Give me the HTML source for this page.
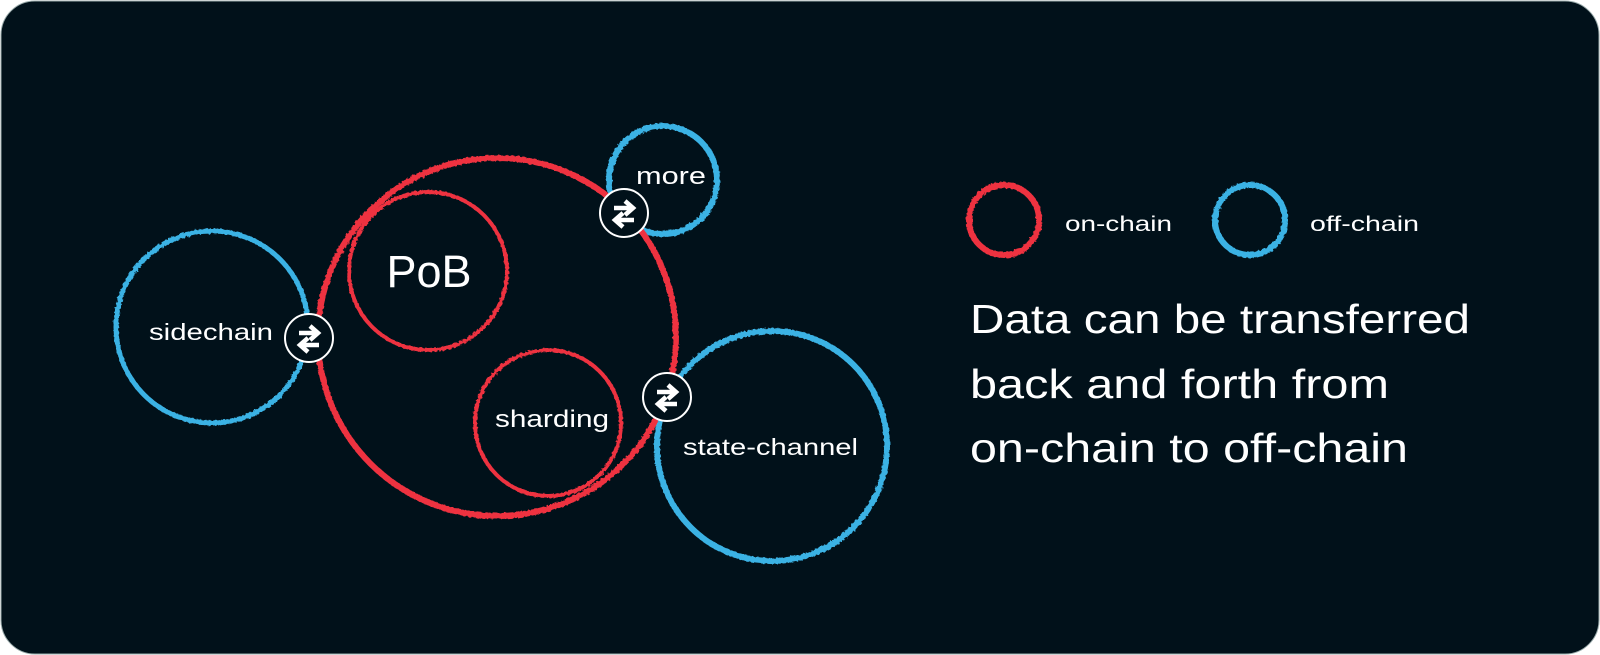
<!DOCTYPE html>
<html><head><meta charset="utf-8"><style>
html,body{margin:0;padding:0;background:#fff;}
body{width:1600px;height:655px;overflow:hidden;}
svg{display:block;}
text{font-family:"Liberation Sans",sans-serif;fill:#fff;}
</style></head><body>
<svg width="1600" height="655" viewBox="0 0 1600 655" xmlns="http://www.w3.org/2000/svg">
<defs>
<filter id="rough" x="-10%" y="-10%" width="120%" height="120%">
<feTurbulence type="fractalNoise" baseFrequency="0.35" numOctaves="2" seed="3"/>
<feDisplacementMap in="SourceGraphic" scale="3"/>
</filter>
<g id="ic">
<circle r="24" fill="#01111a" stroke="#fff" stroke-width="2"/>
<path d="M-10,-5 H6 M1,-12 L9,-5 L1,2" stroke="#fff" stroke-width="4.5" fill="none"/>
<path d="M10,7 H-6 M-1,0 L-9,7 L-1,14" stroke="#fff" stroke-width="4.5" fill="none"/>
</g>
</defs>
<rect x="1" y="1" width="1598" height="653" rx="34" fill="#01111a" stroke="#9aa" stroke-width="1"/>
<g fill="none" filter="url(#rough)">
<circle cx="212" cy="327" r="96" stroke="#3bb2e4" stroke-width="5"/>
<circle cx="663" cy="180" r="54" stroke="#3bb2e4" stroke-width="6"/>
<circle cx="772" cy="446" r="115" stroke="#3bb2e4" stroke-width="6"/>
<circle cx="497" cy="337" r="179" stroke="#ee3340" stroke-width="6"/>
<circle cx="428" cy="271" r="79" stroke="#ee3340" stroke-width="4"/>
<circle cx="548" cy="423" r="73" stroke="#ee3340" stroke-width="4"/>
<circle cx="1004" cy="220" r="35" stroke="#ee3340" stroke-width="6"/>
<circle cx="1250" cy="220" r="35" stroke="#3bb2e4" stroke-width="6"/>
</g>
<use href="#ic" x="309" y="338"/>
<use href="#ic" x="624" y="213"/>
<use href="#ic" x="667" y="397"/>
<text x="149" y="340" font-size="23" textLength="124" lengthAdjust="spacingAndGlyphs">sidechain</text>
<text x="636" y="184" font-size="24" textLength="70" lengthAdjust="spacingAndGlyphs">more</text>
<text x="429" y="287" font-size="45" text-anchor="middle">PoB</text>
<text x="495" y="427" font-size="24" textLength="114" lengthAdjust="spacingAndGlyphs">sharding</text>
<text x="683" y="455" font-size="23" textLength="175" lengthAdjust="spacingAndGlyphs">state-channel</text>
<text x="1065" y="231" font-size="21" textLength="107" lengthAdjust="spacingAndGlyphs">on-chain</text>
<text x="1310" y="231" font-size="21" textLength="109" lengthAdjust="spacingAndGlyphs">off-chain</text>
<text x="970" y="333" font-size="41" textLength="500" lengthAdjust="spacingAndGlyphs">Data can be transferred</text>
<text x="970" y="398" font-size="41" textLength="419" lengthAdjust="spacingAndGlyphs">back and forth from</text>
<text x="970" y="462" font-size="41" textLength="438" lengthAdjust="spacingAndGlyphs">on-chain to off-chain</text>
</svg>
</body></html>
